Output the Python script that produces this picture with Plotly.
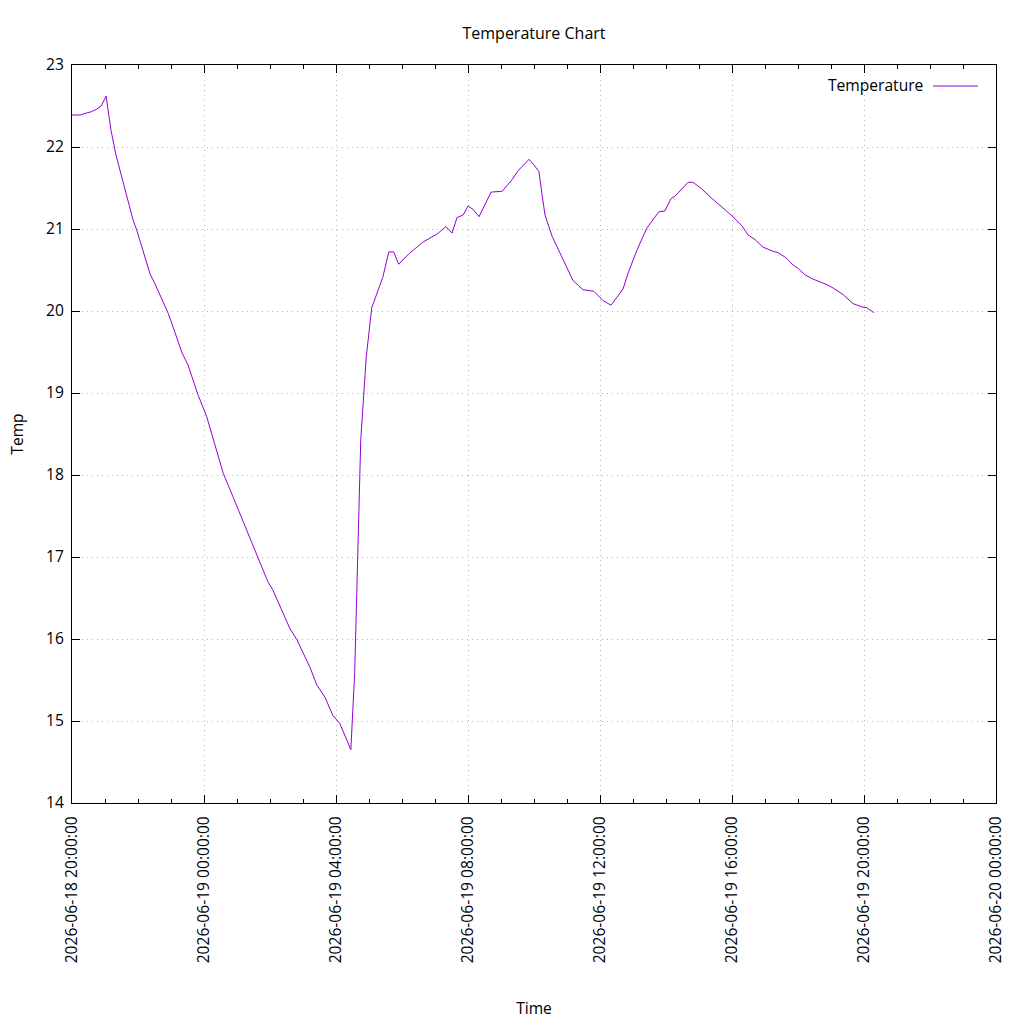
import plotly.graph_objects as go

times_18 = ["20:00", "20:15", "20:24", "20:35", "20:45", "20:53", "21:02", "21:11", "21:20",
            "21:31", "21:42", "21:51", "21:58", "22:09", "22:13", "22:22", "22:31", "22:44",
            "22:55", "23:04", "23:20", "23:31", "23:49"]
temps_18 = [22.39, 22.39, 22.41, 22.43, 22.46, 22.50, 22.62, 22.20, 21.90,
            21.62, 21.33, 21.11, 20.98, 20.73, 20.63, 20.45, 20.33, 20.14,
            19.97, 19.80, 19.49, 19.34, 18.98]

times_19 = ["00:05", "00:22", "00:35", "00:53", "01:15", "01:27", "01:42", "01:56", "02:05",
            "02:22", "02:36", "02:49", "03:00", "03:13", "03:25", "03:40", "03:54", "04:07",
            "04:27", "04:34", "04:45", "04:55", "05:05", "05:15", "05:25", "05:36", "05:45",
            "05:54", "06:13", "06:38", "06:51", "07:04", "07:20", "07:31", "07:40", "07:51",
            "08:00", "08:09", "08:20", "08:31", "08:42", "09:02", "09:20", "09:31", "09:51",
            "10:00", "10:09", "10:14", "10:20", "10:33", "10:51", "11:11", "11:29", "11:49",
            "12:05", "12:20", "12:31", "12:42", "12:51", "13:07", "13:25", "13:47", "13:58",
            "14:09", "14:18", "14:31", "14:40", "14:49", "15:05", "15:24", "15:42", "16:00",
            "16:18", "16:29", "16:42", "16:56", "17:14", "17:24", "17:38", "17:51", "18:00",
            "18:13", "18:27", "18:53", "19:04", "19:22", "19:40", "19:56", "20:05", "20:18"]
temps_19 = [18.71, 18.31, 18.02, 17.73, 17.37, 17.18, 16.94, 16.70, 16.60,
            16.33, 16.13, 15.99, 15.84, 15.65, 15.44, 15.29, 15.07, 14.97,
            14.65, 15.59, 18.43, 19.44, 20.04, 20.22, 20.41, 20.72, 20.72,
            20.57, 20.70, 20.84, 20.89, 20.94, 21.03, 20.95, 21.14, 21.17,
            21.28, 21.24, 21.15, 21.30, 21.45, 21.46, 21.60, 21.71, 21.85,
            21.78, 21.70, 21.45, 21.17, 20.91, 20.65, 20.37, 20.26, 20.24,
            20.13, 20.07, 20.17, 20.27, 20.46, 20.74, 21.01, 21.21, 21.22,
            21.37, 21.41, 21.51, 21.57, 21.57, 21.49, 21.37, 21.27, 21.16,
            21.04, 20.93, 20.87, 20.78, 20.73, 20.71, 20.65, 20.56, 20.52,
            20.44, 20.39, 20.32, 20.28, 20.20, 20.09, 20.05, 20.04, 19.98]

x_vals = ["2026-06-18 " + t for t in times_18] + ["2026-06-19 " + t for t in times_19]
y_vals = temps_18 + temps_19

FONT = "Open Sans"
FS = 15.6
COLOR = "#9400d3"

fig = go.Figure()
fig.add_trace(go.Scatter(x=x_vals, y=y_vals, mode="lines", name="Temperature",
                         line=dict(color=COLOR, width=1), showlegend=False))

axis_common = dict(
    showline=True, linecolor="black", linewidth=1, mirror="allticks",
    ticks="inside", ticklen=8, tickcolor="black", tickwidth=1,
    showgrid=True, gridcolor="#b4b4b4", griddash="1px,4px", gridwidth=1,
    zeroline=False,
    tickfont=dict(family=FONT, size=FS, color="black"),
)

fig.update_layout(
    width=1024, height=1024,
    paper_bgcolor="white", plot_bgcolor="white",
    margin=dict(l=72, r=28, t=65, b=221, autoexpand=False),
    title=dict(text="Temperature Chart", x=0.5, xref="paper", y=1 - 33 / 1024,
               yanchor="middle", font=dict(family=FONT, size=16, color="black")),
    font=dict(family=FONT, size=FS, color="black"),
    xaxis=dict(
        **axis_common,
        type="date",
        range=["2026-06-18 20:00:00", "2026-06-20 00:00:00"],
        dtick=4 * 3600 * 1000, tick0="2026-06-18 20:00:00",
        tickformat="%Y-%m-%d %H:%M:%S", tickangle=-90,
        ticklabelstandoff=6,
        minor=dict(dtick=3600 * 1000, ticks="inside", ticklen=4, tickcolor="black", showgrid=False),
        title=dict(text="Time", font=dict(family=FONT, size=FS), standoff=40),
        automargin=False,
    ),
    yaxis=dict(
        **axis_common,
        range=[14, 23], dtick=1,
        ticklabelstandoff=4,
        title=dict(text="Temp", font=dict(family=FONT, size=FS), standoff=18),
        automargin=False,
    ),
)

fig.add_annotation(text="Temperature", xref="paper", yref="paper",
                   x=(925 - 72) / 924, y=(803 - 85) / 738, xanchor="right", yanchor="middle",
                   showarrow=False, font=dict(family=FONT, size=FS, color="black"))
fig.add_shape(type="line", xref="paper", yref="paper",
              x0=(933 - 72) / 924, x1=(978 - 72) / 924,
              y0=(803 - 86) / 738, y1=(803 - 86) / 738,
              line=dict(color=COLOR, width=1))

fig.write_html("out.html")
